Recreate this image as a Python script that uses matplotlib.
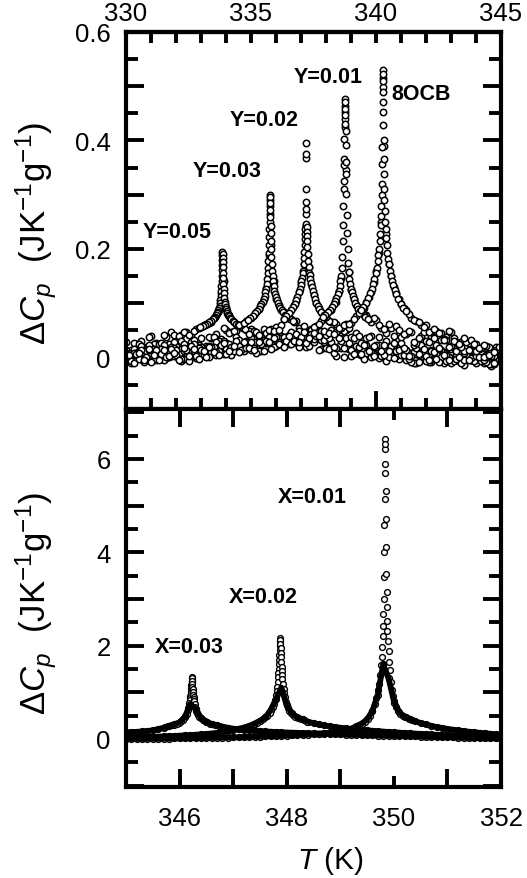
import numpy as np
import matplotlib
matplotlib.use('Agg')
import matplotlib.pyplot as plt
from matplotlib.ticker import MultipleLocator, FixedLocator, FuncFormatter

plt.rcParams['font.family'] = ['Liberation Sans', 'DejaVu Sans']
plt.rcParams['mathtext.fontset'] = 'custom'
plt.rcParams['mathtext.rm'] = 'Liberation Sans'
plt.rcParams['mathtext.it'] = 'Liberation Sans:italic'
plt.rcParams['mathtext.bf'] = 'Liberation Sans:bold'

# ---------------- upper panel (T in K, dCp in J/K/g) ----------------
T_up = [330.0, 330.2, 330.4, 330.6, 330.8, 331.0, 331.2, 331.4, 331.6, 331.8,
        332.0, 332.2, 332.4, 332.6, 332.8, 333.0, 333.2, 333.4, 333.6, 333.8,
        334.0, 334.2, 334.4, 334.6, 334.8, 335.0, 335.2, 335.4, 335.6, 335.8,
        336.0, 336.2, 336.4, 336.6, 336.8, 337.0, 337.2, 337.4, 337.6, 337.8,
        338.0, 338.2, 338.4, 338.6, 338.8, 339.0, 339.2, 339.4, 339.6, 339.8,
        340.0, 340.2, 340.4, 340.6, 340.8, 341.0, 341.2, 341.4, 341.6, 341.8,
        342.0, 342.2, 342.4, 342.6, 342.8, 343.0, 343.2, 343.4, 343.6, 343.8,
        344.0, 344.2, 344.4, 344.6, 344.8, 345.0]
T_up_mid = [330.1, 330.3, 330.5, 330.7, 330.9, 331.1, 331.3, 331.5, 331.7, 331.9,
            332.1, 332.3, 332.5, 332.7, 332.9, 333.1, 333.3, 333.5, 333.7, 333.9,
            334.1, 334.3, 334.5, 334.7, 334.9, 335.1, 335.3, 335.5, 335.7, 335.9,
            336.1, 336.3, 336.5, 336.7, 336.9, 337.1, 337.3, 337.5, 337.7, 337.9,
            338.1, 338.3, 338.5, 338.7, 338.9, 339.1, 339.3, 339.5, 339.7, 339.9,
            340.1, 340.3, 340.5, 340.7, 340.9, 341.1, 341.3, 341.5, 341.7, 341.9,
            342.1, 342.3, 342.5, 342.7, 342.9, 343.1, 343.3, 343.5, 343.7, 343.9,
            344.1, 344.3, 344.5, 344.7, 344.9]

cp_8ocb = [0.008, -0.007, 0.006, 0.014, 0.000, -0.008, 0.013, 0.006, 0.000, 0.016,
           0.005, -0.002, 0.013, 0.021, 0.003, 0.013, 0.000, 0.019, 0.010, 0.023,
           0.007, 0.020, 0.030, 0.013, 0.018, 0.028, 0.009, 0.025, 0.030, 0.016,
           0.038, 0.024, 0.030, 0.024, 0.043, 0.037, 0.027, 0.044, 0.040, 0.049,
           0.042, 0.050, 0.046, 0.055, 0.062, 0.064, 0.077, 0.086, 0.102, 0.120,
           0.159, 0.249, 0.228, 0.150, 0.119, 0.099, 0.087, 0.073, 0.068, 0.059,
           0.060, 0.046, 0.048, 0.045, 0.032, 0.046, 0.028, 0.019, 0.029, 0.032,
           0.011, 0.018, 0.021, 0.002, 0.013, 0.003]
cp_8ocb_mid = [0.005, -0.010, 0.009, -0.004, 0.015, 0.004, -0.004, 0.014, 0.002, 0.009,
               -0.004, 0.017, 0.003, 0.015, -0.003, 0.012, 0.019, 0.010, 0.004, 0.027,
               0.011, 0.021, 0.010, 0.029, 0.018, 0.014, 0.028, 0.011, 0.028, 0.035,
               0.024, 0.019, 0.039, 0.031, 0.028, 0.047, 0.035, 0.045, 0.039, 0.048,
               0.045, 0.043, 0.055, 0.059, 0.061, 0.071, 0.082, 0.092, 0.112, 0.139,
               0.192, 0.390, 0.172, 0.130, 0.107, 0.091, 0.080, 0.069, 0.066, 0.057,
               0.047, 0.052, 0.045, 0.032, 0.048, 0.030, 0.024, 0.036, 0.013, 0.025,
               0.018, 0.023, 0.004, 0.010, 0.019]
cp_y01 = [0.002, -0.011, 0.008, -0.002, 0.011, -0.006, 0.007, 0.016, -0.001, 0.003,
          0.013, -0.007, 0.009, 0.013, -0.001, 0.019, 0.005, 0.010, 0.004, 0.022,
          0.015, 0.004, 0.020, 0.014, 0.030, 0.014, 0.028, 0.012, 0.026, 0.036,
          0.021, 0.035, 0.031, 0.046, 0.028, 0.043, 0.042, 0.051, 0.058, 0.067,
          0.074, 0.088, 0.103, 0.146, 0.345, 0.124, 0.097, 0.085, 0.078, 0.065,
          0.069, 0.055, 0.045, 0.055, 0.058, 0.037, 0.044, 0.046, 0.027, 0.039,
          0.030, 0.039, 0.022, 0.032, 0.038, 0.021, 0.011, 0.029, 0.020, 0.011,
          0.025, 0.011, 0.001, 0.014, 0.020, 0.000]
cp_y01_mid = [0.001, 0.008, -0.002, -0.009, 0.014, -0.003, 0.007, -0.005, 0.014, 0.003,
              -0.002, 0.012, -0.006, 0.011, 0.017, 0.005, 0.000, 0.019, 0.011, 0.007,
              0.025, 0.012, 0.021, 0.012, 0.028, 0.018, 0.011, 0.028, 0.038, 0.020,
              0.029, 0.038, 0.024, 0.038, 0.049, 0.040, 0.040, 0.057, 0.062, 0.075,
              0.085, 0.098, 0.123, 0.310, 0.158, 0.108, 0.089, 0.078, 0.071, 0.072,
              0.059, 0.053, 0.062, 0.039, 0.051, 0.044, 0.049, 0.029, 0.035, 0.046,
              0.029, 0.035, 0.018, 0.034, 0.019, 0.035, 0.021, 0.011, 0.026, 0.012,
              0.016, 0.001, 0.019, 0.003, 0.013]
cp_y02 = [0.013, -0.001, 0.003, -0.003, 0.014, 0.007, -0.005, 0.011, 0.004, 0.019,
          0.002, 0.016, -0.001, 0.012, 0.021, 0.005, 0.018, 0.014, 0.028, 0.010,
          0.027, 0.018, 0.038, 0.026, 0.023, 0.036, 0.046, 0.027, 0.045, 0.046,
          0.056, 0.059, 0.072, 0.087, 0.104, 0.138, 0.243, 0.135, 0.101, 0.083,
          0.070, 0.065, 0.061, 0.046, 0.050, 0.038, 0.045, 0.026, 0.035, 0.040,
          0.023, 0.012, 0.030, 0.021, 0.012, 0.026, 0.013, 0.003, 0.017, 0.023,
          0.003, 0.011, -0.003, 0.014, 0.004, 0.015, -0.003, 0.009, 0.017, -0.001,
          0.002, 0.011, -0.009, 0.005, 0.008, -0.007]
cp_y02_mid = [-0.002, -0.007, 0.012, 0.003, -0.002, 0.016, 0.003, 0.012, 0.001, 0.017,
              0.006, -0.002, 0.015, 0.024, 0.005, 0.013, 0.021, 0.007, 0.020, 0.030,
              0.017, 0.012, 0.033, 0.027, 0.043, 0.028, 0.041, 0.032, 0.050, 0.049,
              0.051, 0.071, 0.081, 0.096, 0.120, 0.172, 0.167, 0.116, 0.092, 0.078,
              0.068, 0.065, 0.050, 0.049, 0.055, 0.036, 0.040, 0.022, 0.037, 0.021,
              0.037, 0.022, 0.012, 0.027, 0.013, 0.018, 0.003, 0.022, 0.006, 0.016,
              -0.004, 0.010, 0.015, 0.004, -0.004, 0.018, 0.000, 0.009, -0.004, 0.014,
              0.001, -0.004, 0.009, -0.010, 0.005]
cp_y03 = [0.000, 0.013, 0.008, 0.021, 0.002, 0.018, 0.008, 0.027, 0.015, 0.010,
          0.021, 0.030, 0.010, 0.029, 0.022, 0.036, 0.021, 0.036, 0.044, 0.034,
          0.050, 0.047, 0.049, 0.059, 0.068, 0.073, 0.084, 0.098, 0.128, 0.207,
          0.108, 0.088, 0.078, 0.071, 0.068, 0.053, 0.044, 0.053, 0.042, 0.032,
          0.044, 0.029, 0.018, 0.030, 0.035, 0.014, 0.021, 0.006, 0.022, 0.010,
          0.020, 0.002, 0.013, 0.021, 0.002, 0.005, 0.013, -0.008, 0.007, 0.009,
          -0.006, 0.013, -0.002, 0.001, -0.006, 0.010, 0.002, -0.010, 0.004, -0.004,
          0.011, -0.007, 0.005, -0.013, -0.001, 0.007]
cp_y03_mid = [0.008, 0.016, 0.000, 0.013, 0.022, 0.008, 0.002, 0.022, 0.015, 0.029,
              0.012, 0.024, 0.014, 0.033, 0.023, 0.017, 0.038, 0.037, 0.031, 0.054,
              0.045, 0.048, 0.060, 0.063, 0.071, 0.079, 0.089, 0.108, 0.188, 0.140,
              0.096, 0.083, 0.074, 0.066, 0.055, 0.058, 0.047, 0.034, 0.048, 0.032,
              0.035, 0.019, 0.036, 0.018, 0.027, 0.007, 0.019, 0.023, 0.011, 0.002,
              0.023, 0.005, 0.013, -0.001, 0.017, 0.004, -0.003, 0.010, -0.009, 0.006,
              0.012, -0.002, -0.009, 0.009, 0.000, -0.006, 0.011, -0.004, 0.004, -0.007,
              0.008, -0.005, -0.013, 0.002, 0.010]
cp_y05 = [0.028, 0.011, 0.024, 0.031, 0.019, 0.039, 0.026, 0.022, 0.037, 0.046,
          0.030, 0.042, 0.047, 0.042, 0.053, 0.056, 0.062, 0.065, 0.078, 0.119,
          0.089, 0.071, 0.062, 0.057, 0.051, 0.053, 0.045, 0.039, 0.047, 0.052,
          0.032, 0.039, 0.024, 0.040, 0.028, 0.038, 0.019, 0.029, 0.035, 0.015,
          0.017, 0.025, 0.003, 0.017, 0.018, 0.002, 0.021, 0.005, 0.008, 0.000,
          0.016, 0.007, -0.006, 0.009, 0.000, 0.015, -0.004, 0.009, -0.010, 0.002,
          0.009, -0.008, 0.004, -0.003, 0.010, -0.010, 0.004, -0.007, 0.011, -0.004,
          -0.010, 0.000, 0.007, -0.016, 0.001, -0.008]
cp_y05_mid = [0.008, 0.027, 0.024, 0.017, 0.038, 0.025, 0.024, 0.041, 0.024, 0.041,
              0.040, 0.046, 0.041, 0.049, 0.055, 0.059, 0.064, 0.072, 0.088, 0.140,
              0.078, 0.066, 0.059, 0.054, 0.048, 0.048, 0.040, 0.052, 0.035, 0.045,
              0.025, 0.037, 0.041, 0.029, 0.020, 0.040, 0.021, 0.028, 0.013, 0.029,
              0.016, 0.009, 0.021, 0.001, 0.015, 0.020, 0.006, -0.002, 0.016, 0.006,
              -0.001, 0.016, 0.001, 0.009, -0.003, 0.012, -0.001, -0.010, 0.005, 0.013,
              -0.008, -0.001, 0.006, -0.011, 0.001, 0.009, -0.007, -0.014, 0.005, -0.005,
              0.008, -0.010, -0.001, -0.013, 0.004]

# extra points close to each transition: distance from Tc, values below / above Tc
dT_up = [0.002, 0.005, 0.009, 0.014, 0.02, 0.027, 0.035, 0.045, 0.056, 0.07,
         0.085, 0.1, 0.12, 0.14, 0.165, 0.19, 0.22, 0.26, 0.3, 0.35,
         0.4, 0.46, 0.53, 0.61, 0.7, 0.8, 0.9]
tc_up = {'8OCB': 340.28, 'Y=0.01': 338.76, 'Y=0.02': 337.2, 'Y=0.03': 335.76, 'Y=0.05': 333.86}
pk_8ocb_lo = [0.529, 0.516, 0.498, 0.471, 0.428, 0.388, 0.357, 0.32, 0.30, 0.28,
              0.26, 0.245, 0.228, 0.214, 0.2, 0.188, 0.177, 0.165, 0.155, 0.145,
              0.136, 0.127, 0.118, 0.109, 0.101, 0.093, 0.087]
pk_8ocb_hi = [0.523, 0.51, 0.489, 0.452, 0.40, 0.366, 0.338, 0.31, 0.29, 0.27,
              0.25, 0.236, 0.22, 0.207, 0.193, 0.182, 0.172, 0.16, 0.151, 0.141,
              0.133, 0.125, 0.117, 0.108, 0.099, 0.092, 0.086]
pk_y01_lo = [0.477, 0.464, 0.452, 0.44, 0.425, 0.403, 0.366, 0.354, 0.326, 0.28,
             0.245, 0.215, 0.185, 0.165, 0.15, 0.14, 0.131, 0.123, 0.117, 0.11,
             0.104, 0.098, 0.093, 0.088, 0.083, 0.078, 0.074]
pk_y01_hi = [0.470, 0.458, 0.446, 0.43, 0.418, 0.391, 0.36, 0.338, 0.301, 0.262,
             0.23, 0.2, 0.175, 0.158, 0.145, 0.135, 0.127, 0.12, 0.114, 0.107,
             0.101, 0.095, 0.09, 0.085, 0.08, 0.075, 0.071]
pk_y02_lo = [0.396, 0.367, 0.287, 0.265, 0.243, 0.236, 0.228, 0.219, 0.208, 0.195,
             0.183, 0.172, 0.16, 0.155, 0.147, 0.14, 0.133, 0.126, 0.12, 0.112,
             0.105, 0.099, 0.093, 0.087, 0.081, 0.076, 0.071]
pk_y02_hi = [0.375, 0.311, 0.274, 0.246, 0.24, 0.232, 0.224, 0.214, 0.203, 0.19,
             0.178, 0.167, 0.156, 0.152, 0.144, 0.137, 0.13, 0.122, 0.116, 0.108,
             0.101, 0.095, 0.089, 0.083, 0.078, 0.072, 0.068]
pk_y03_lo = [0.299, 0.29, 0.279, 0.265, 0.25, 0.236, 0.222, 0.207, 0.193, 0.178,
             0.165, 0.155, 0.144, 0.135, 0.127, 0.12, 0.114, 0.108, 0.103, 0.098,
             0.094, 0.089, 0.085, 0.081, 0.077, 0.073, 0.069]
pk_y03_hi = [0.295, 0.285, 0.272, 0.258, 0.243, 0.229, 0.215, 0.2, 0.186, 0.172,
             0.16, 0.15, 0.14, 0.131, 0.123, 0.117, 0.111, 0.105, 0.1, 0.095,
             0.091, 0.087, 0.083, 0.079, 0.075, 0.071, 0.067]
pk_y05_lo = [0.194, 0.188, 0.18, 0.171, 0.161, 0.151, 0.141, 0.131, 0.122, 0.113,
             0.106, 0.1, 0.095, 0.091, 0.087, 0.084, 0.081, 0.078, 0.075, 0.072,
             0.07, 0.067, 0.065, 0.062, 0.06, 0.058, 0.056]
pk_y05_hi = [0.191, 0.184, 0.176, 0.166, 0.156, 0.146, 0.136, 0.127, 0.118, 0.11,
             0.103, 0.098, 0.093, 0.089, 0.085, 0.082, 0.079, 0.076, 0.073, 0.07,
             0.067, 0.065, 0.062, 0.06, 0.058, 0.055, 0.053]

# ---------------- lower panel ----------------
T_low = [345.0, 345.1, 345.2, 345.3, 345.4, 345.5, 345.6, 345.7, 345.8, 345.9,
         346.0, 346.1, 346.2, 346.3, 346.4, 346.5, 346.6, 346.7, 346.8, 346.9,
         347.0, 347.1, 347.2, 347.3, 347.4, 347.5, 347.6, 347.7, 347.8, 347.9,
         348.0, 348.1, 348.2, 348.3, 348.4, 348.5, 348.6, 348.7, 348.8, 348.9,
         349.0, 349.1, 349.2, 349.3, 349.4, 349.5, 349.6, 349.7, 349.8, 349.9,
         350.0, 350.1, 350.2, 350.3, 350.4, 350.5, 350.6, 350.7, 350.8, 350.9,
         351.0, 351.1, 351.2, 351.3, 351.4, 351.5, 351.6, 351.7, 351.8, 351.9,
         352.0]
cp_x03 = [0.140, 0.146, 0.152, 0.160, 0.170, 0.185, 0.210, 0.240, 0.280, 0.310,
          0.360, 0.470, 0.750, 0.640, 0.450, 0.365, 0.320, 0.290, 0.265, 0.240,
          0.220, 0.205, 0.195, 0.185, 0.175, 0.166, 0.160, 0.154, 0.148, 0.143,
          0.138, 0.134, 0.130, 0.126, 0.122, 0.118, 0.114, 0.110, 0.106, 0.102,
          0.098, 0.095, 0.091, 0.088, 0.084, 0.081, 0.078, 0.074, 0.071, 0.068,
          0.065, 0.062, 0.059, 0.056, 0.053, 0.050, 0.047, 0.044, 0.041, 0.038,
          0.035, 0.032, 0.029, 0.027, 0.024, 0.021, 0.018, 0.016, 0.013, 0.011,
          0.008]
cp_x02 = [0.030, 0.033, 0.036, 0.039, 0.042, 0.046, 0.050, 0.054, 0.059, 0.064,
          0.070, 0.076, 0.083, 0.090, 0.098, 0.107, 0.117, 0.130, 0.145, 0.165,
          0.190, 0.215, 0.245, 0.280, 0.330, 0.390, 0.460, 0.620, 0.850, 1.100,
          0.720, 0.550, 0.460, 0.420, 0.370, 0.335, 0.310, 0.290, 0.270, 0.255,
          0.240, 0.227, 0.215, 0.204, 0.194, 0.184, 0.175, 0.166, 0.158, 0.150,
          0.142, 0.135, 0.128, 0.121, 0.114, 0.108, 0.102, 0.096, 0.090, 0.085,
          0.080, 0.075, 0.070, 0.065, 0.061, 0.057, 0.053, 0.049, 0.045, 0.042,
          0.038]
cp_x01 = [0.000, 0.001, 0.002, 0.003, 0.004, 0.005, 0.006, 0.007, 0.009, 0.011,
          0.013, 0.015, 0.017, 0.019, 0.021, 0.023, 0.025, 0.027, 0.029, 0.031,
          0.034, 0.037, 0.040, 0.043, 0.046, 0.050, 0.054, 0.058, 0.062, 0.066,
          0.071, 0.076, 0.082, 0.088, 0.095, 0.103, 0.112, 0.122, 0.134, 0.148,
          0.165, 0.190, 0.220, 0.270, 0.330, 0.420, 0.600, 0.950, 1.600, 1.300,
          0.820, 0.570, 0.480, 0.430, 0.380, 0.340, 0.310, 0.280, 0.255, 0.235,
          0.215, 0.198, 0.183, 0.168, 0.155, 0.143, 0.132, 0.121, 0.111, 0.101,
          0.092]

dT_low = [0.001, 0.003, 0.006, 0.01, 0.015, 0.02, 0.025, 0.03, 0.035, 0.04,
          0.05, 0.06, 0.07, 0.08, 0.1, 0.12, 0.14, 0.17, 0.2, 0.24,
          0.28, 0.33, 0.38, 0.44, 0.5]
tc_low = {'X=0.01': 349.84, 'X=0.02': 347.88, 'X=0.03': 346.23}
pk_x01_lo = [6.43, 6.21, 5.71, 5.14, 4.59, 4.0, 3.47, 3.0, 2.68, 2.43,
             2.21, 1.98, 1.76, 1.58, 1.36, 1.18, 1.04, 0.88, 0.74, 0.6,
             0.5, 0.43, 0.37, 0.33, 0.29]
pk_x01_hi = [6.32, 5.89, 5.32, 4.71, 4.11, 3.54, 3.14, 2.82, 2.53, 2.32,
             2.1, 1.88, 1.66, 1.48, 1.22, 1.05, 0.92, 0.78, 0.68, 0.6,
             0.54, 0.5, 0.46, 0.43, 0.4]
pk_x02_lo = [2.16, 2.08, 2.0, 1.9, 1.8, 1.7, 1.6, 1.5, 1.42, 1.33,
             1.22, 1.12, 1.03, 0.95, 0.84, 0.75, 0.68, 0.61, 0.56, 0.5,
             0.46, 0.42, 0.39, 0.35, 0.33]
pk_x02_hi = [2.12, 2.04, 1.95, 1.85, 1.75, 1.65, 1.55, 1.45, 1.37, 1.28,
             1.17, 1.07, 0.98, 0.9, 0.8, 0.72, 0.66, 0.6, 0.56, 0.52,
             0.48, 0.45, 0.42, 0.4, 0.37]
pk_x03_lo = [1.32, 1.27, 1.21, 1.15, 1.09, 1.03, 0.98, 0.93, 0.88, 0.84,
             0.77, 0.71, 0.66, 0.61, 0.54, 0.49, 0.45, 0.41, 0.38, 0.34,
             0.325, 0.305, 0.29, 0.275, 0.255]
pk_x03_hi = [1.3, 1.24, 1.18, 1.12, 1.06, 1.0, 0.95, 0.9, 0.86, 0.82,
             0.75, 0.69, 0.64, 0.6, 0.55, 0.51, 0.48, 0.44, 0.41, 0.38,
             0.355, 0.33, 0.315, 0.295, 0.28]

upper = [('Y=0.05', cp_y05, cp_y05_mid, pk_y05_lo, pk_y05_hi),
         ('Y=0.03', cp_y03, cp_y03_mid, pk_y03_lo, pk_y03_hi),
         ('Y=0.02', cp_y02, cp_y02_mid, pk_y02_lo, pk_y02_hi),
         ('Y=0.01', cp_y01, cp_y01_mid, pk_y01_lo, pk_y01_hi),
         ('8OCB', cp_8ocb, cp_8ocb_mid, pk_8ocb_lo, pk_8ocb_hi)]
lower = [('X=0.03', cp_x03, pk_x03_lo, pk_x03_hi),
         ('X=0.02', cp_x02, pk_x02_lo, pk_x02_hi),
         ('X=0.01', cp_x01, pk_x01_lo, pk_x01_hi)]

fig = plt.figure(figsize=(5.27, 8.79), dpi=100)
ax1 = fig.add_axes([0.2391, 0.5336, 0.7116, 0.4289])
ax2 = fig.add_axes([0.2391, 0.1035, 0.7116, 0.4300])

mk_up = dict(marker='o', ls='none', ms=4.6, mfc='white', mec='black', mew=1.1)
mk_low = dict(marker='o', ls='none', ms=4.2, mfc='white', mec='black', mew=1.0)

dt = np.array(dT_up)
for name, grid, mid, lo, hi in upper:
    tc = tc_up[name]
    T = np.concatenate([T_up, T_up_mid, tc - dt, tc + dt])
    C = np.concatenate([grid, mid, lo, hi])
    ax1.plot(T, C, **mk_up)

dt = np.array(dT_low)
for name, grid, lo, hi in lower:
    tc = tc_low[name]
    T = np.concatenate([T_low, tc - dt, tc + dt])
    C = np.concatenate([grid, lo, hi])
    ax2.plot(T, C, zorder=2, **mk_low)
    # the densely sampled wings read as one thick dark band
    ax2.plot(T_low, grid, '-', color='black', lw=4.2, zorder=3,
             solid_joinstyle='round')

# ---- axes styling ----
lw_ax = 3.0
tw = 2.8
for ax in (ax1, ax2):
    for s in ax.spines.values():
        s.set_linewidth(lw_ax)
        s.set_zorder(5)

ax1.set_xlim(330, 345)
ax1.set_ylim(-0.095, 0.6)
ax1.xaxis.set_major_locator(FixedLocator([340]))
ax1.xaxis.set_minor_locator(MultipleLocator(1))
ax1.yaxis.set_major_locator(MultipleLocator(0.1))
ax1.yaxis.set_minor_locator(MultipleLocator(0.05))
ax1.yaxis.set_major_formatter(FuncFormatter(
    lambda v, p: '%g' % round(v, 1) if round(v * 10) % 2 == 0 else ''))
ax1.tick_params(which='both', direction='in', width=tw, left=True, right=True,
                top=False, bottom=True, labelbottom=False, labelsize=18.5)
ax1.tick_params(axis='y', which='major', length=13, pad=11)
ax1.tick_params(axis='y', which='minor', length=8.5)
ax1.tick_params(axis='x', which='major', length=13)
ax1.tick_params(axis='x', which='minor', length=8)

top = ax1.secondary_xaxis('top')
top.set_xticks([330, 335, 340, 345])
top.xaxis.set_major_formatter(FuncFormatter(lambda v, p: '%d' % round(v)))
top.xaxis.set_minor_locator(MultipleLocator(1))
top.tick_params(which='both', direction='in', length=8, width=tw, labelsize=18.5, pad=5)
top.spines['top'].set_linewidth(lw_ax)

ax2.set_xlim(345, 352)
ax2.set_ylim(-1.03, 7.07)
ax2.xaxis.set_major_locator(FixedLocator([346, 348, 350, 352]))
ax2.xaxis.set_minor_locator(FixedLocator([346, 347, 348, 349, 351]))
ax2.xaxis.remove_overlapping_locs = False
ax2.xaxis.set_major_formatter(FuncFormatter(lambda v, p: '%d' % round(v)))
ax2.yaxis.set_major_locator(MultipleLocator(1))
ax2.yaxis.set_minor_locator(MultipleLocator(0.5))
ax2.yaxis.set_major_formatter(FuncFormatter(
    lambda v, p: '%d' % round(v) if round(v) % 2 == 0 and v > -0.5 else ''))
ax2.tick_params(which='both', direction='in', width=tw, left=True, right=True,
                top=True, bottom=True, labelsize=18.5)
ax2.tick_params(axis='x', which='major', length=8, pad=14)
ax2.tick_params(axis='x', which='minor', length=13)
ax2.tick_params(axis='y', which='major', length=13, pad=11)
ax2.tick_params(axis='y', which='minor', length=8.5)

ylab = r'$\Delta C_p$  (JK$^{-1}$g$^{-1}$)'
ax1.set_ylabel(ylab, fontsize=25)
ax1.yaxis.set_label_coords(-0.18, 0.469)
ax2.set_ylabel(ylab, fontsize=25)
ax2.yaxis.set_label_coords(-0.18, 0.487)
ax2.set_xlabel(r'$T$ (K)', fontsize=21.5)
ax2.xaxis.set_label_coords(0.544, -0.15)

txt = dict(fontsize=15.5, fontweight='bold', ha='left', va='baseline')
ax1.text(330.68, 0.222, 'Y=0.05', **txt)
ax1.text(332.68, 0.335, 'Y=0.03', **txt)
ax1.text(334.16, 0.429, 'Y=0.02', **txt)
ax1.text(336.72, 0.508, 'Y=0.01', **txt)
ax1.text(340.6, 0.477, '8OCB', **txt)
ax2.text(347.84, 5.08, 'X=0.01', **txt)
ax2.text(346.91, 2.94, 'X=0.02', **txt)
ax2.text(345.53, 1.87, 'X=0.03', **txt)

fig.savefig('out.png', dpi=100)
